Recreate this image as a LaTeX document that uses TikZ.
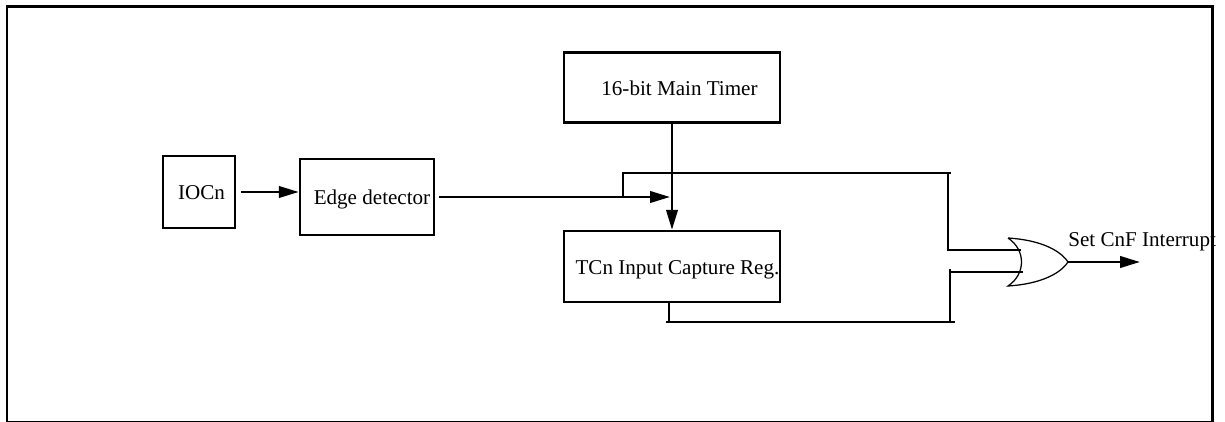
\documentclass[tikz,border=0pt]{standalone}
\usepackage{fontspec}
\setmainfont{Liberation Serif}
\usetikzlibrary{arrows.meta}
\begin{document}
\begin{tikzpicture}
[x=0.02cm, y=-0.02cm, font=\fontsize{12}{14}\selectfont]
\tikzstyle{block}=[rectangle, draw, line width=0.05cm, inner sep=0pt, align=center, text height=9pt, text depth=0pt]
\tikzstyle{wire}=[line width=0.05cm]
\tikzstyle{arrow}=[wire, -{Triangle[length=0.4cm, width=0.23cm]}]
\useasboundingbox (0,0) rectangle (1225,422);
% outer frame
\coordinate (NW) at (7,7);
\coordinate (NE) at (1212,7);
\coordinate (SW) at (7,421.5);
\coordinate (SE) at (1212,421.5);
\draw[line width=0.06cm, line cap=rect] (SW)--(NW)--(NE)--(SE);
\draw[line width=0.03cm] (SW)--(SE);
% blocks
\node[block, minimum width=1.44cm, minimum height=1.44cm]	(IOCn)	at (199,192)	{\hspace*{0.1cm}IOCn};
\node[block, minimum width=2.68cm, minimum height=1.52cm]	(Edge)	at (367,197)	{\hspace*{0.2cm}Edge detector};
\node[block, minimum width=4.32cm, minimum height=1.41cm]	(Timer)	at (672,87.5)	{\hspace*{0.3cm}16-bit Main Timer};
\node[block, minimum width=4.32cm, minimum height=1.42cm]	(Capture)	at (672,266.5)	{\hspace*{0.22cm}TCn Input Capture Reg.};
% or gate
\coordinate (OrTop) at (1008,238);
\coordinate (OrBot) at (1008,286);
\coordinate (OrTip) at (1068,262);
\draw[line width=0.025cm] (OrTop) .. controls (1040,240) and (1060,250) .. (OrTip)
	.. controls (1060,274) and (1040,284) .. (OrBot)
	.. controls (1026,274) and (1026,250) .. (OrTop);
% wires
\coordinate (J1) at (623,196);
\coordinate (J2) at (623,173);
\coordinate (J3) at (948,173);
\coordinate (J4) at (951,173);
\coordinate (J5) at (948,250);
\coordinate (In1) at (1021,250);
\coordinate (J6) at (950,269);
\coordinate (J7) at (950,272);
\coordinate (In2) at (1023,272);
\coordinate (J8) at (950,322);
\coordinate (J9) at (955,322);
\coordinate (J10) at (666,322);
\coordinate (J11) at (Capture.south -| 669,0);
\coordinate (J12) at (669,322);
\coordinate (Out) at (1140,262);
\draw[arrow, shorten <=0.1cm] (IOCn.east) -- (IOCn.east -| Edge.west);
\draw[arrow, shorten <=0.08cm] (Edge.east) -- (Edge.east -| 670,0);
\draw[arrow] (Timer.south) -- (Capture.north);
\draw[wire] (J1)--(J2)--(J4);
\draw[wire] (J3)--(J5)--(In1);
\draw[wire] (J6)--(J8);
\draw[wire] (J7)--(In2);
\draw[wire] (J10)--(J9);
\draw[wire] (J11)--(J12);
\draw[arrow] (OrTip)--(Out);
\node[inner sep=0pt, anchor=west]	(Set)	at (1068,242)	{Set CnF Interrupt};
\end{tikzpicture}
\end{document}
